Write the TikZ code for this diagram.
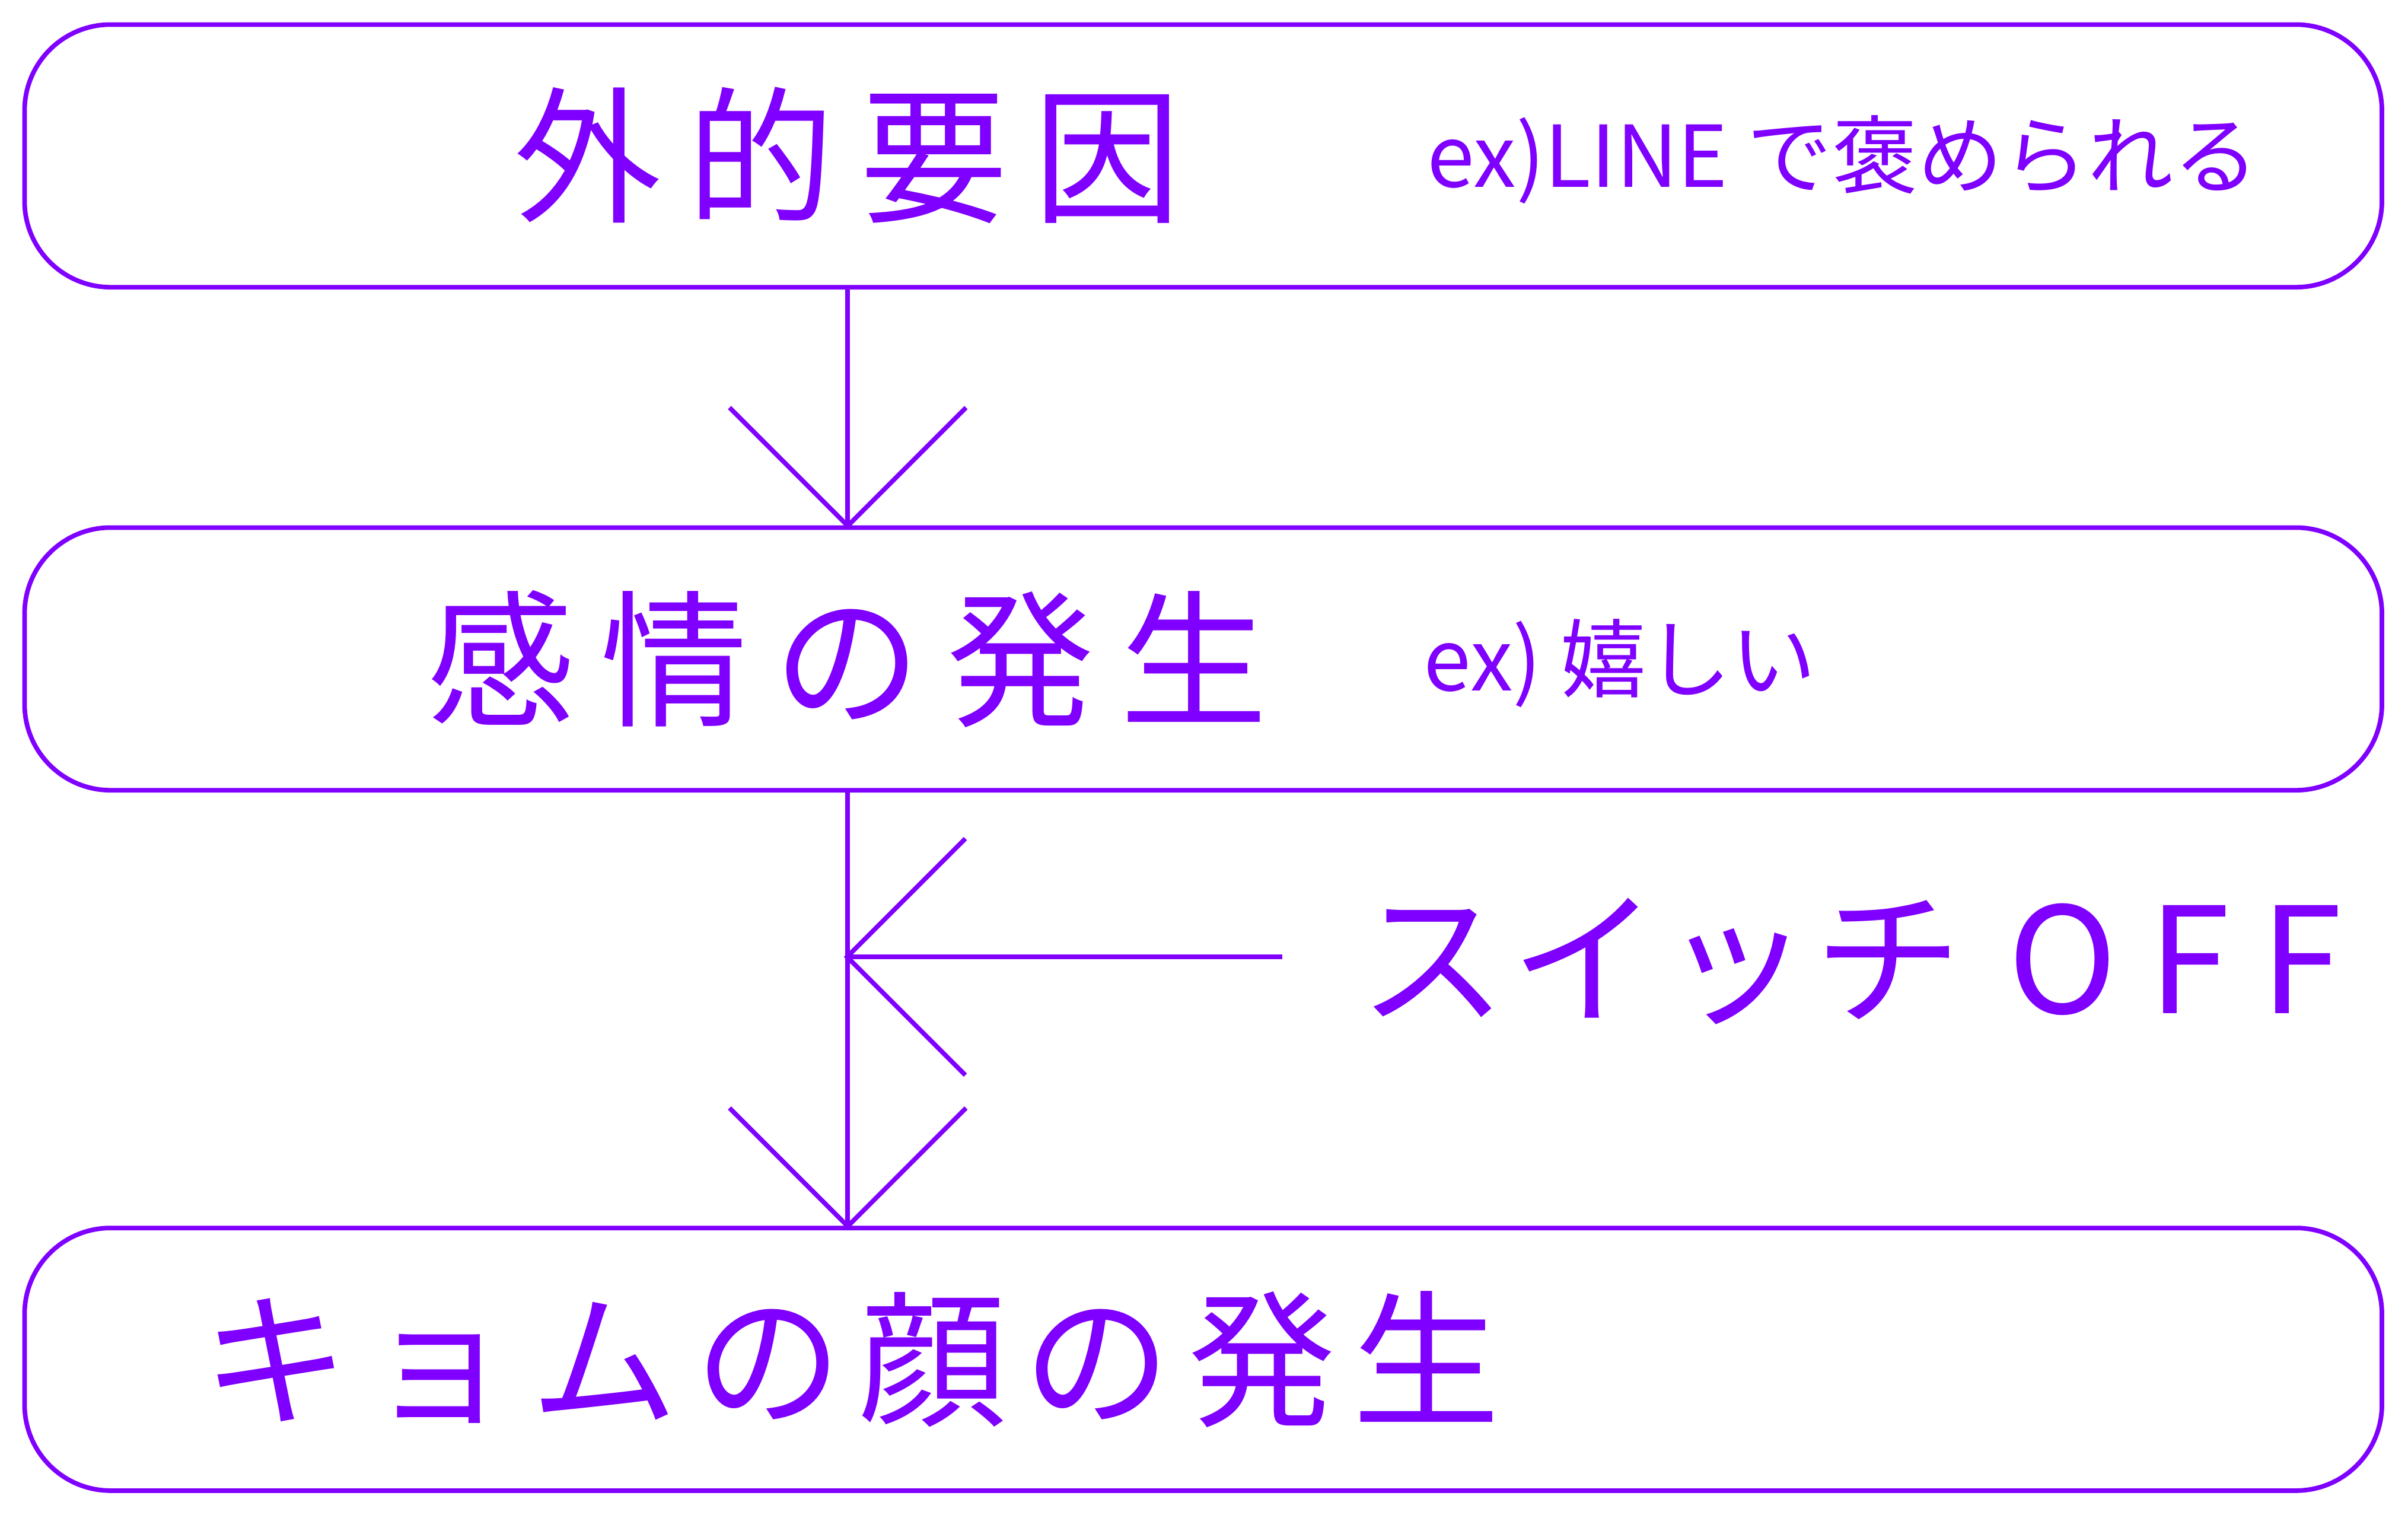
\documentclass[tikz,border=0pt]{standalone}
\usepackage{fontspec}
\setmainfont{Noto Sans CJK JP}
\usetikzlibrary{arrows.meta}
\definecolor{kyom}{RGB}{127,0,255}

\begin{document}
\begin{tikzpicture}[
    x=1pt, y=1pt,
    stage/.style={rectangle, draw=kyom, line width=3pt, rounded corners=56pt, minimum width=1535pt, minimum height=171pt},
    title/.style={text=kyom, inner sep=0pt, font=\fontsize{96}{110}\selectfont\addfontfeature{LetterSpace=#1}},
    sample/.style={text=kyom, inner sep=0pt, font=\fontsize{55.5}{64}\selectfont},
    flow/.style={-{Straight Barb[length=77pt, width=154pt]}, draw=kyom, line width=3pt, shorten >=-2.5pt}
]
    \useasboundingbox (0, 0) rectangle (1568, 986);

    % Stufen
    \node[stage] (ext) at (783.5, 884.5) {};
    \node[stage] (emo) at (783.5, 557) {};
    \node[stage] (kyom) at (783.5, 101) {};

    % Texte
    \node[title=17.5] (extlabel) at (552, 885) {外的要因};
    \node[sample] (extnote) at (1200, 882) {ex)LINE で褒められる};
    \node[title=17.5] (emolabel) at (552, 557) {感情の発生};
    \node[sample] (emonote) at (1055, 554) {ex) 嬉しい};
    \node[title=11.5] (kyomlabel) at (554, 101) {キョムの顔の発生};
    \node[title=3] (switch) at (1205, 360) {スイッチ\hspace{30pt}\addfontfeature{LetterSpace=21}OFF};

    % Pfeile
    \coordinate (axis) at (552, 0);
    \coordinate (cut) at (835, 363);
    \draw[flow] (ext.south -| axis) -- (emo.north -| axis);
    \draw[flow] (emo.south -| axis) -- (kyom.north -| axis);
    \draw[flow] (cut) -- (cut -| axis);

\end{tikzpicture}
\end{document}
